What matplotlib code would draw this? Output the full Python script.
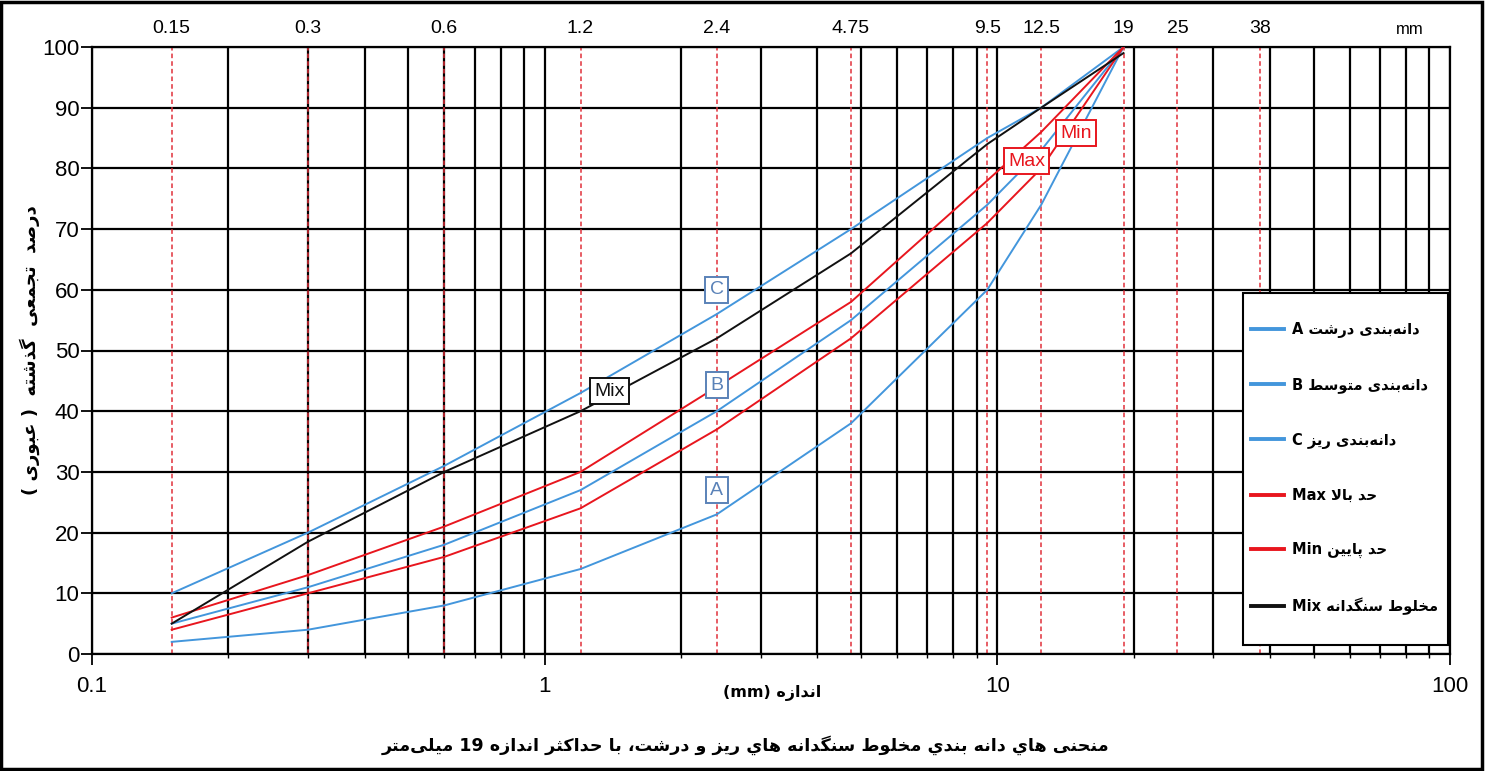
import re
import numpy as np
import matplotlib
matplotlib.use("Agg")
import matplotlib.pyplot as plt
from matplotlib.patches import Rectangle
from matplotlib.lines import Line2D

# ---------------------------------------------------------------- data
sieve_mm = [0.15, 0.3, 0.6, 1.2, 2.4, 4.75, 9.5, 12.5, 19]
grading_a = [2, 4, 8, 14, 23, 38, 60, 74, 100]
grading_b = [5, 11, 18, 27, 40, 55, 74, 83, 100]
grading_c = [10, 20, 31, 43, 56, 70, 85, 90, 100]
limit_max = [6, 13, 21, 30, 44, 58, 78, 86, 100]
limit_min = [4, 10, 16, 24, 37, 52, 71, 80, 100]
mix = [5, 18.5, 30, 40, 52, 66, 84, 90, 99]

guide_sizes = [0.15, 0.3, 0.6, 1.2, 2.4, 4.75, 9.5, 12.5, 19, 25, 38]
guide_labels = ["0.15", "0.3", "0.6", "1.2", "2.4", "4.75", "9.5", "12.5", "19", "25", "38"]

x_ticks = [0.1, 1, 10, 100]
x_tick_labels = ["0.1", "1", "10", "100"]
y_ticks = list(range(0, 101, 10))

legend_labels = [
    "دانه‌بندی درشت A",
    "دانه‌بندی متوسط B",
    "دانه‌بندی ریز C",
    "حد بالا Max",
    "حد پایین Min",
    "مخلوط سنگدانه Mix",
]
x_title = "اندازه (mm)"
y_title = "درصد  تجمعی  گذشته  ( عبوری )"
caption = "منحنی هاي دانه بندي مخلوط سنگدانه هاي ریز و درشت، با حداکثر اندازه 19 میلی‌متر"

# ------------------------------------------------ Persian text shaping
# dual-joining letters -> first code point of (isolated, final, initial, medial)
_DUAL = {
    "ب": 0xFE8F, "پ": 0xFB56, "ت": 0xFE95, "ث": 0xFE99, "ج": 0xFE9D,
    "چ": 0xFB7A, "ح": 0xFEA1, "خ": 0xFEA5, "س": 0xFEB1, "ش": 0xFEB5,
    "ص": 0xFEB9, "ض": 0xFEBD, "ط": 0xFEC1, "ظ": 0xFEC5, "ع": 0xFEC9,
    "غ": 0xFECD, "ف": 0xFED1, "ق": 0xFED5, "ک": 0xFB8E, "ك": 0xFED9,
    "گ": 0xFB92, "ل": 0xFEDD, "م": 0xFEE1, "ن": 0xFEE5, "ه": 0xFEE9,
    "ی": 0xFBFC, "ي": 0xFEF1,
}
# right-joining letters -> first code point of (isolated, final)
_RIGHT = {
    "ا": 0xFE8D, "د": 0xFEA9, "ذ": 0xFEAB, "ر": 0xFEAD, "ز": 0xFEAF,
    "ژ": 0xFB8A, "و": 0xFEED,
}


def fa(text):
    """Shape Persian letters and put the string in display order."""
    chars = list(text)
    n = len(chars)
    out = []
    i = 0
    while i < n:
        c = chars[i]
        if c == "\u200c":
            i += 1
            continue
        prev_joins = i > 0 and chars[i - 1] in _DUAL
        if c == "ل" and i + 1 < n and chars[i + 1] == "ا":
            out.append("\uFEFC" if prev_joins else "\uFEFB")
            i += 2
            continue
        if c in _DUAL:
            nxt = chars[i + 1] if i + 1 < n else ""
            next_joins = nxt in _DUAL or nxt in _RIGHT
            base = _DUAL[c]
            if prev_joins and next_joins:
                out.append(chr(base + 3))
            elif prev_joins:
                out.append(chr(base + 1))
            elif next_joins:
                out.append(chr(base + 2))
            else:
                out.append(chr(base))
        elif c in _RIGHT:
            out.append(chr(_RIGHT[c] + (1 if prev_joins else 0)))
        else:
            out.append(c)
        i += 1
    s = "".join(out)[::-1]
    s = s.translate(str.maketrans("()", ")("))
    return re.sub(r"[A-Za-z0-9.]+", lambda m: m.group(0)[::-1], s)


# ---------------------------------------------------------------- style
NUM_FONT = ["Liberation Sans Narrow", "Liberation Sans", "DejaVu Sans"]
FA_FONT = ["DejaVu Sans"]
BLUE = "#4396dc"
RED = "#e8161e"
BLACK = "#111111"
LABEL_BLUE = "#5a82b8"

W, H = 1485, 771
fig = plt.figure(figsize=(W / 100, H / 100), dpi=100)
ax = fig.add_axes([92 / W, 1 - 654 / H, (1450 - 92) / W, (654 - 47) / H])

ax.set_xscale("log")
ax.set_xlim(0.1, 100)
ax.set_ylim(0, 100)

# grid
ax.set_axisbelow(True)
ax.grid(which="major", axis="both", color="black", lw=1.6)
ax.grid(which="minor", axis="x", color="black", lw=1.6)

# sieve guide lines
for s in guide_sizes:
    ax.axvline(s, color="#e0303a", lw=1.1, ls=(0, (3, 2)), zorder=1.5)

series = [
    (grading_a, BLUE),
    (grading_b, BLUE),
    (grading_c, BLUE),
    (limit_max, RED),
    (limit_min, RED),
    (mix, BLACK),
]
handles = []
for vals, col in series:
    ax.plot(sieve_mm, vals, color=col, lw=1.4, zorder=3)
    handles.append(Line2D([], [], color=col, lw=2.8))

# curve tags
tags = [
    ("C", 2.4, 60.0, LABEL_BLUE),
    ("B", 2.4, 44.3, LABEL_BLUE),
    ("A", 2.4, 27.0, LABEL_BLUE),
    ("Mix", 1.39, 43.3, BLACK),
    ("Max", 11.6, 81.2, RED),
    ("Min", 14.95, 85.8, RED),
]
for txt, xv, yv, col in tags:
    ax.text(xv, yv, txt, color=col, fontsize=14, family=NUM_FONT,
            ha="center", va="center", zorder=5,
            bbox=dict(boxstyle="square,pad=0.22", fc="white", ec=col, lw=1.4))

# ticks
ax.set_xticks(x_ticks)
ax.set_xticklabels(x_tick_labels)
ax.set_yticks(y_ticks)
ax.tick_params(axis="both", which="major", direction="out", length=8,
               width=1.3, labelsize=16)
ax.tick_params(axis="y", pad=1)
ax.tick_params(axis="x", which="major", pad=8)
ax.tick_params(axis="x", which="minor", direction="out", length=3, width=1.0,
               labelbottom=False)
for lab in ax.get_xticklabels() + ax.get_yticklabels():
    lab.set_family(NUM_FONT)

for sp in ax.spines.values():
    sp.set_color("black")
    sp.set_linewidth(1.6)

# sieve sizes along the top
xt = ax.get_xaxis_transform()
for s, lab in zip(guide_sizes, guide_labels):
    ax.text(s, 1.017, lab, transform=xt, ha="center", va="bottom",
            fontsize=14, family=NUM_FONT)
ax.text(0.9705, 1.017, "mm", transform=ax.transAxes, ha="center",
        va="bottom", fontsize=12, family=NUM_FONT)

# axis titles and caption
fig.text(30 / W, 1 - 350 / H, fa(y_title), rotation=90, ha="center",
         va="center", fontsize=13, weight="bold", family=FA_FONT)
fig.text(772 / W, 1 - 693 / H, fa(x_title), ha="center", va="center",
         fontsize=11.5, weight="bold", family=FA_FONT)
fig.text(745 / W, 1 - 745 / H, fa(caption), ha="center", va="center",
         fontsize=12.6, weight="bold", family=FA_FONT)

# legend box and entries
ax.add_patch(Rectangle((1243 / W, 1 - 645 / H), 205 / W, 352 / H,
                       transform=fig.transFigure, fc="white", ec="black",
                       lw=1.5, zorder=6, clip_on=False))
leg = ax.legend(handles, [fa(t) for t in legend_labels],
                loc="upper left",
                bbox_to_anchor=(1251 / W, 1 - 322 / H),
                bbox_transform=fig.transFigure,
                frameon=False, handlelength=2.25, handletextpad=0.55,
                labelspacing=2.7, borderpad=0, borderaxespad=0,
                prop=dict(family=FA_FONT, weight="bold", size=10.5))
leg.set_zorder(7)

# outer frame
fig.patches.append(Rectangle((0.001, 0.002), 0.997, 0.996,
                             transform=fig.transFigure, fill=False,
                             ec="black", lw=2.5))

fig.savefig("out.png", dpi=100, facecolor="white")
